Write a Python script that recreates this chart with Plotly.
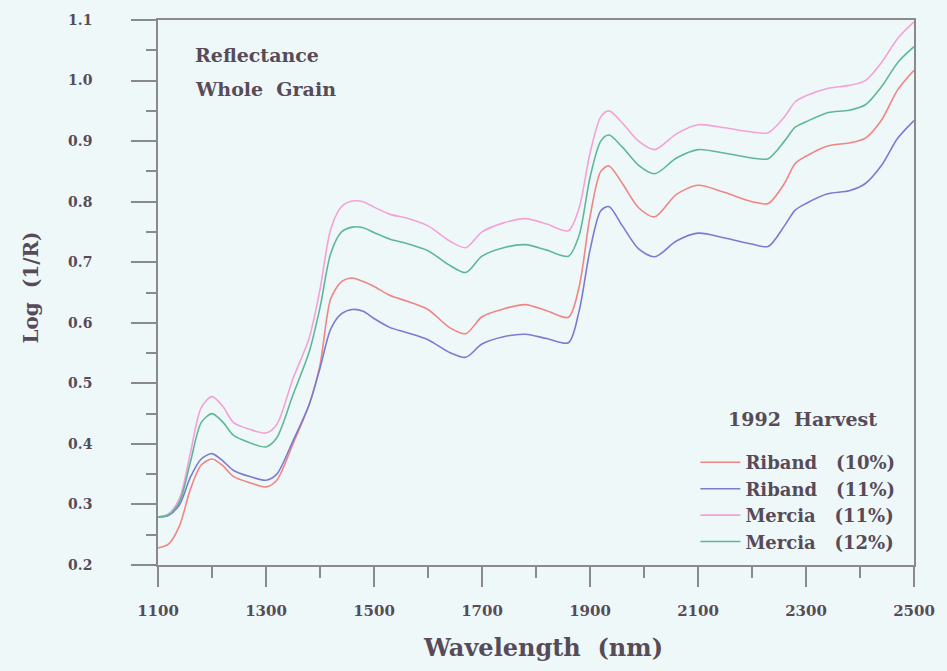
import plotly.graph_objects as go

wavelength = [1100, 1120, 1140, 1160, 1180, 1200, 1220, 1240, 1270, 1300, 1320, 1350, 1380, 1400,
              1420, 1440, 1460, 1480, 1500, 1530, 1560, 1600, 1640, 1670, 1700, 1740, 1780, 1820,
              1860, 1880, 1900, 1920, 1935, 1960, 1990, 2020, 2060, 2100, 2150, 2200, 2230, 2260,
              2280, 2300, 2340, 2380, 2410, 2440, 2470, 2500]

riband_10 = [0.228, 0.235, 0.265, 0.325, 0.365, 0.375, 0.364, 0.346, 0.336, 0.329, 0.340, 0.400,
             0.465, 0.530, 0.640, 0.668, 0.674, 0.668, 0.660, 0.645, 0.636, 0.622, 0.592, 0.582,
             0.610, 0.623, 0.630, 0.620, 0.609, 0.660, 0.775, 0.850, 0.859, 0.830, 0.790, 0.775,
             0.812, 0.827, 0.815, 0.800, 0.797, 0.830, 0.863, 0.875, 0.892, 0.897, 0.905, 0.935,
             0.985, 1.017]

riband_11 = [0.279, 0.282, 0.300, 0.345, 0.375, 0.384, 0.372, 0.356, 0.346, 0.340, 0.350, 0.405,
             0.465, 0.525, 0.590, 0.615, 0.622, 0.619, 0.607, 0.592, 0.584, 0.572, 0.551, 0.543,
             0.565, 0.577, 0.581, 0.574, 0.567, 0.620, 0.720, 0.785, 0.792, 0.760, 0.722, 0.709,
             0.735, 0.748, 0.740, 0.730, 0.726, 0.760, 0.786, 0.797, 0.813, 0.818, 0.830, 0.860,
             0.905, 0.934]

mercia_11 = [0.279, 0.285, 0.310, 0.385, 0.460, 0.478, 0.462, 0.435, 0.424, 0.418, 0.432, 0.508,
             0.575, 0.655, 0.755, 0.792, 0.801, 0.800, 0.791, 0.779, 0.773, 0.760, 0.735, 0.724,
             0.750, 0.765, 0.772, 0.763, 0.752, 0.790, 0.880, 0.940, 0.950, 0.930, 0.900, 0.886,
             0.912, 0.927, 0.922, 0.915, 0.914, 0.940, 0.965, 0.975, 0.987, 0.992, 1.000, 1.030,
             1.070, 1.097]

mercia_12 = [0.279, 0.283, 0.305, 0.370, 0.435, 0.450, 0.436, 0.414, 0.402, 0.395, 0.410, 0.481,
             0.552, 0.625, 0.715, 0.750, 0.758, 0.757, 0.749, 0.738, 0.731, 0.719, 0.695, 0.683,
             0.710, 0.724, 0.729, 0.720, 0.710, 0.745, 0.840, 0.900, 0.910, 0.890, 0.860, 0.846,
             0.872, 0.886, 0.880, 0.872, 0.871, 0.900, 0.923, 0.932, 0.947, 0.951, 0.960, 0.990,
             1.030, 1.056]

series_names = ["Riband\u00a0\u00a0\u00a0(10%)", "Riband\u00a0\u00a0\u00a0(11%)",
                "Mercia\u00a0\u00a0\u00a0(11%)", "Mercia\u00a0\u00a0\u00a0(12%)"]
series_values = [riband_10, riband_11, mercia_11, mercia_12]
series_colors = ["#f08585", "#7b7bd0", "#f4a2d6", "#5fb895"]

x_ticks = [1100, 1300, 1500, 1700, 1900, 2100, 2300, 2500]
y_ticks = [0.2, 0.3, 0.4, 0.5, 0.6, 0.7, 0.8, 0.9, 1.0, 1.1]

FONT = "DejaVu Serif"
TXT = "#584b58"
AX = "#8a8a8a"
BG = "#eef8f9"

fig = go.Figure()
for i, (name, vals, col) in enumerate(zip(series_names, series_values, series_colors)):
    fig.add_trace(go.Scatter(
        x=wavelength, y=vals, mode="lines", name=name,
        line=dict(color=col, width=1.6, shape="spline", smoothing=0.8),
        legendgroup=f"g{i}",
    ))

fig.update_layout(
    width=947, height=671,
    paper_bgcolor=BG, plot_bgcolor=BG,
    margin=dict(l=158, r=29, t=15, b=106),
    font=dict(family=FONT, color=TXT),
    showlegend=True,
    legend=dict(
        x=0.982, xanchor="right", y=0.2218, yanchor="top",
        bgcolor="rgba(0,0,0,0)",
        font=dict(family=FONT, size=18, color=TXT, weight="bold"),
        tracegroupgap=0,
        itemwidth=40,
    ),
    xaxis=dict(
        range=[1100, 2500], tickvals=x_ticks, ticktext=[str(v) for v in x_ticks],
        showgrid=False, zeroline=False,
        showline=True, linecolor=AX, linewidth=1.5, mirror=True,
        ticks="outside", ticklen=20, tickwidth=1.5, tickcolor=AX,
        minor=dict(dtick=100, tick0=1100, ticks="outside", ticklen=11, tickwidth=1.5, tickcolor=AX),
        tickfont=dict(family=FONT, size=15, color=TXT, weight="bold"),
        ticklabelstandoff=11,
    ),
    yaxis=dict(
        range=[0.2, 1.1], tickvals=y_ticks, ticktext=[f"{v:.1f}" for v in y_ticks],
        showgrid=False, zeroline=False,
        showline=True, linecolor=AX, linewidth=1.5, mirror=True,
        ticks="outside", ticklen=25, tickwidth=1.5, tickcolor=AX,
        minor=dict(dtick=0.05, tick0=0.2, ticks="outside", ticklen=10, tickwidth=1.5, tickcolor=AX),
        tickfont=dict(family=FONT, size=14, color=TXT, weight="bold"),
        ticklabelstandoff=36,
    ),
    annotations=[
        dict(text="Reflectance", x=0.046, y=0.935, xref="paper", yref="paper",
             xanchor="left", yanchor="middle", showarrow=False,
             font=dict(family=FONT, size=19, color=TXT, weight="bold")),
        dict(text="Whole\u00a0\u00a0Grain", x=0.046, y=0.873, xref="paper", yref="paper",
             xanchor="left", yanchor="middle", showarrow=False,
             font=dict(family=FONT, size=19, color=TXT, weight="bold")),
        dict(text="1992\u00a0\u00a0Harvest", x=(806 - 158) / 760, y=(565 - 418) / 550,
             xref="paper", yref="paper",
             xanchor="center", yanchor="middle", showarrow=False,
             font=dict(family=FONT, size=19, color=TXT, weight="bold")),
        dict(text="Wavelength\u00a0\u00a0(nm)", x=(545 - 158) / 760, y=-0.152, xref="paper", yref="paper",
             xanchor="center", yanchor="middle", showarrow=False,
             font=dict(family=FONT, size=24, color=TXT, weight="bold")),
        dict(text="Log\u00a0\u00a0(1/R)", x=-0.168, y=(565 - 285) / 550, xref="paper", yref="paper",
             xanchor="center", yanchor="middle", showarrow=False, textangle=-90,
             font=dict(family=FONT, size=20, color=TXT, weight="bold")),
    ],
)

fig.write_html("out.html")
